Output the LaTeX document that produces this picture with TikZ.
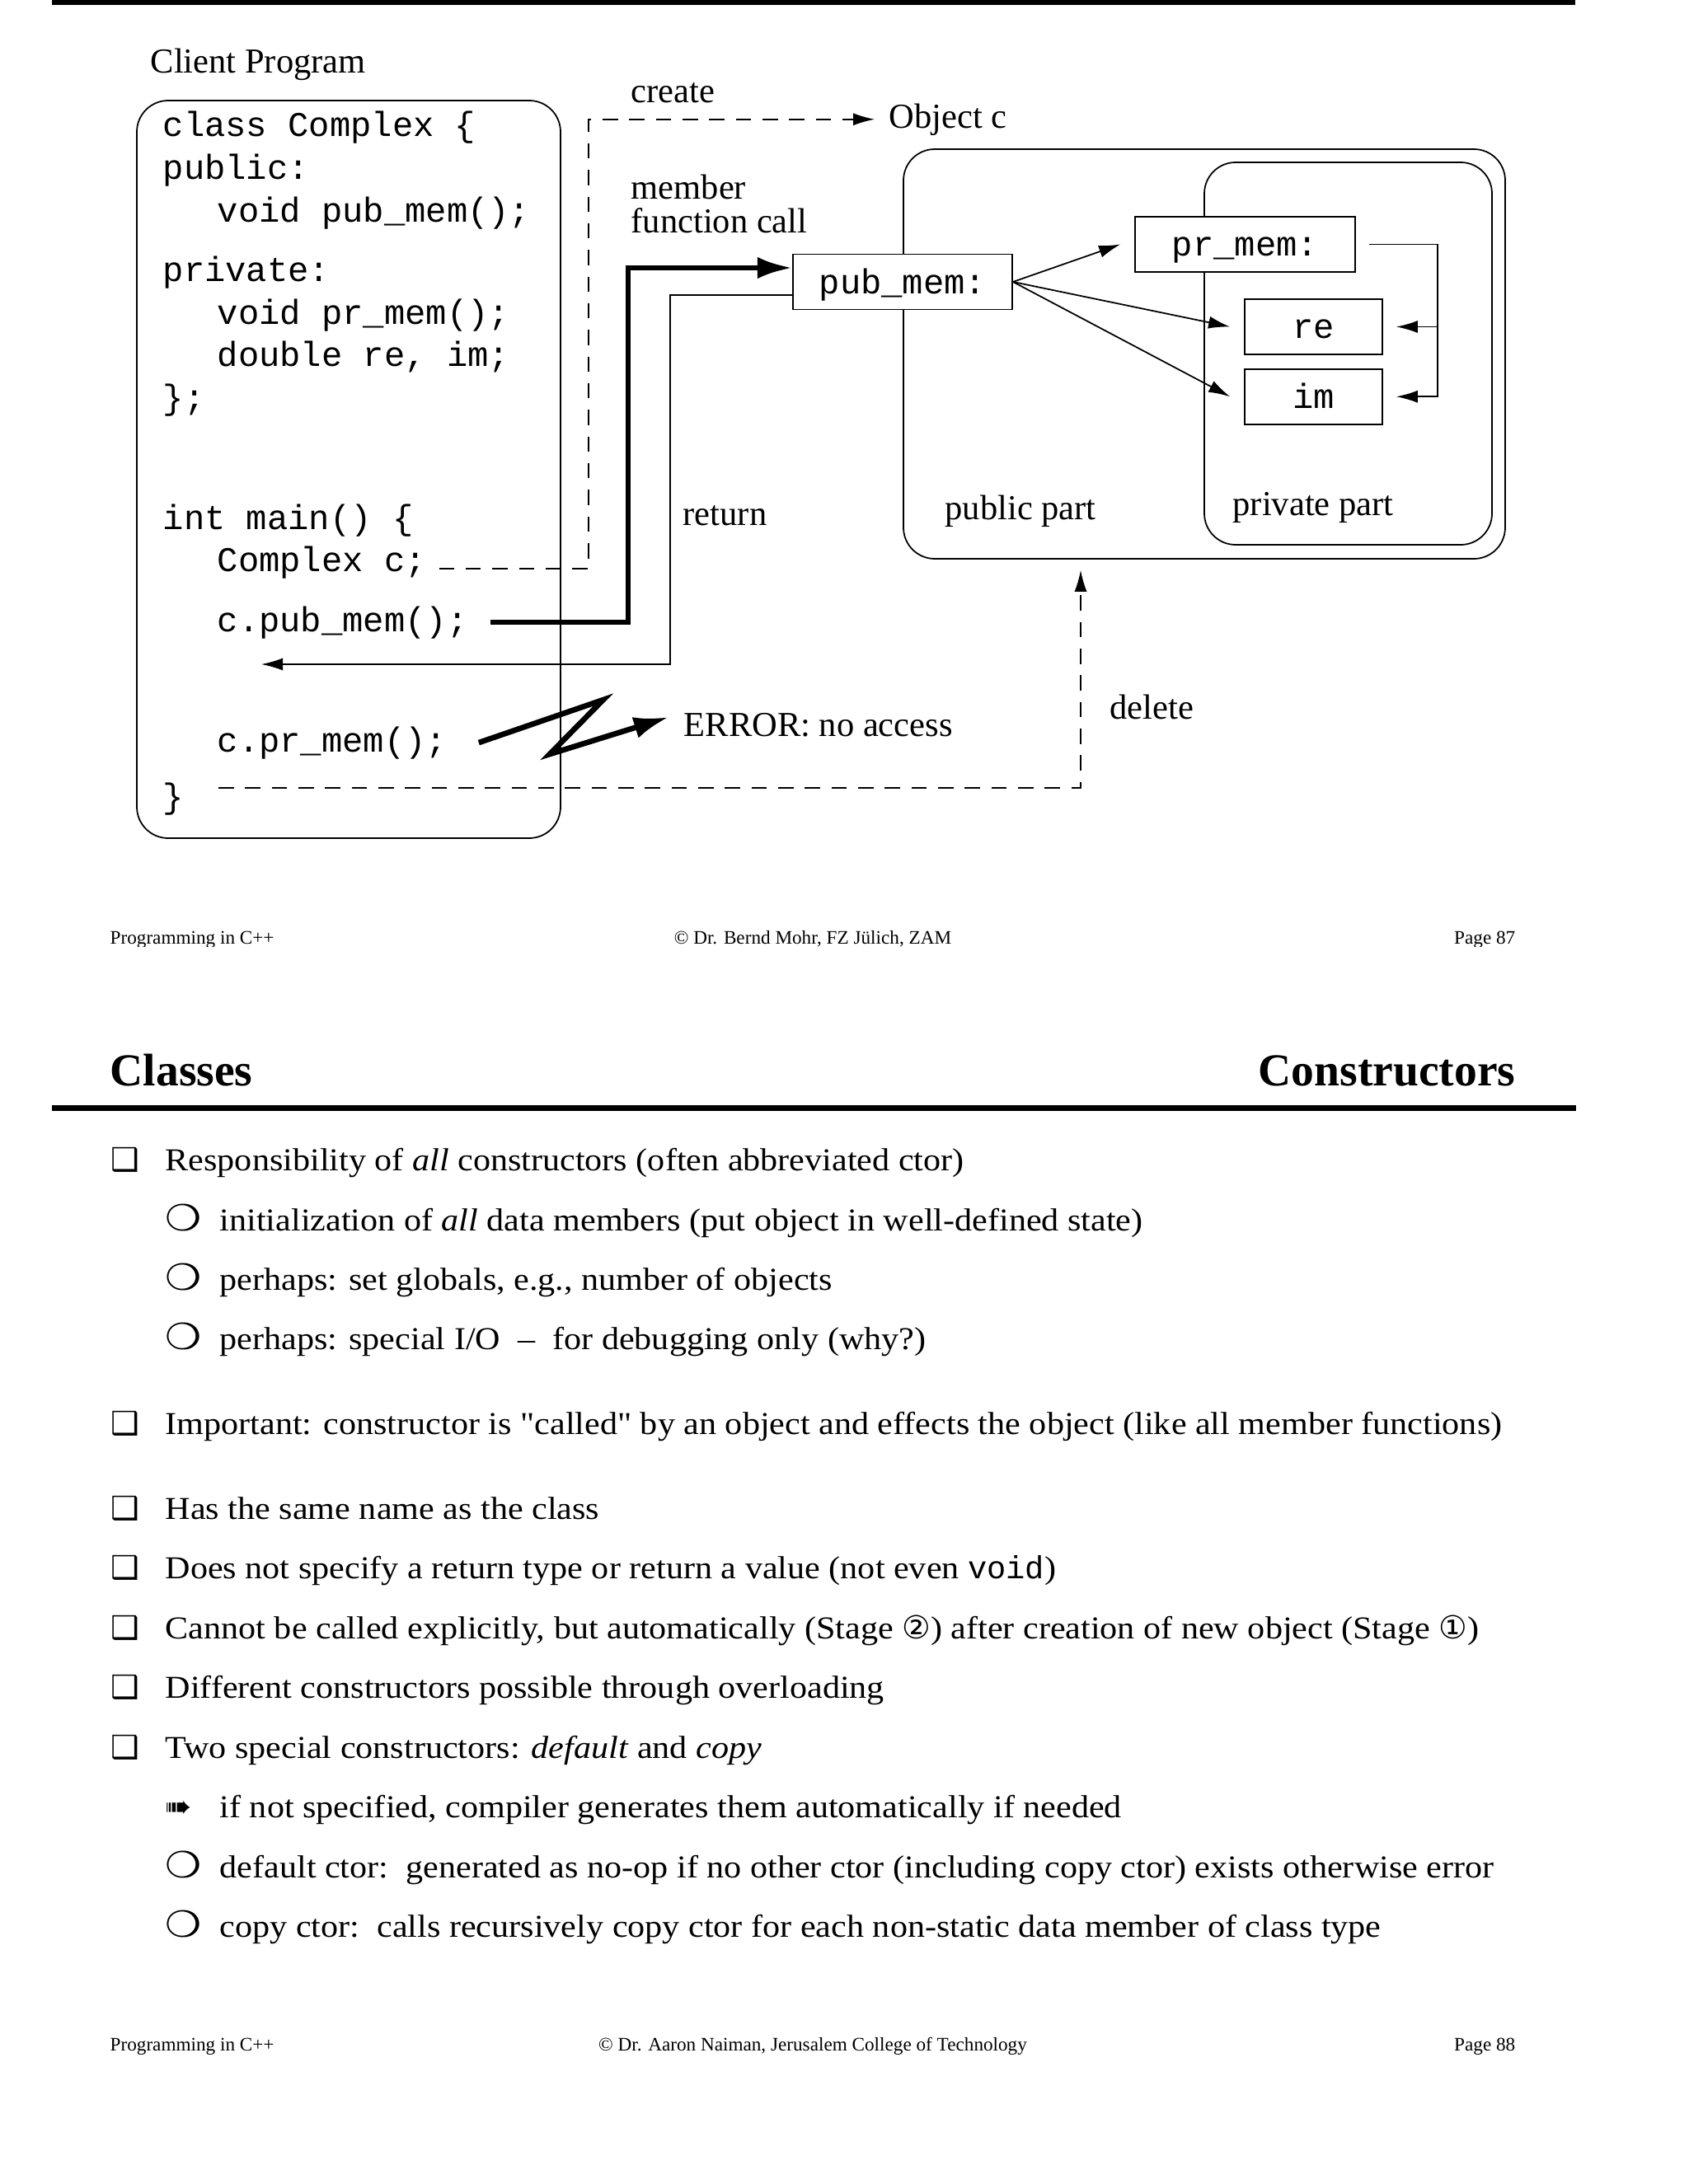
\documentclass[tikz,border=0pt]{standalone}
\usepackage{fontspec}
\setmainfont{Liberation Serif}
\setmonofont{Liberation Mono}
\newfontfamily\bodyfont[FakeStretch=1.09,Ligatures=TeXOff]{Liberation Serif}
\newfontfamily\symfont{DejaVu Sans}
\newfontfamily\widesymfont[FakeStretch=1.12]{DejaVu Sans}
\usetikzlibrary{arrows.meta,positioning}

\newcommand{\boxbul}{\makebox[0.66cm][l]{\symfont ❑}}
\newcommand{\ringbul}{\makebox[0.66cm][l]{\widesymfont\fontsize{12.5}{13}\selectfont ❍}}
\newcommand{\arrbul}{\makebox[0.66cm][l]{\symfont ➠}}

\begin{document}
\begin{tikzpicture}[
codeline/.style={font=\ttfamily\fontsize{12}{14}\selectfont, anchor=base west, inner sep=0pt},
txt/.style={font=\fontsize{12.1}{14}\selectfont, anchor=base west, inner sep=0pt},
membox/.style={
draw,
fill=white,
line width=0.5pt,
inner sep=0pt,
font=\ttfamily\fontsize{12}{14}\selectfont,
text height=0.38cm,
text depth=0.10cm,
minimum height=0.67cm
},
part/.style={draw, line width=0.5pt, rounded corners=0.38cm},
conn/.style={-{Latex[length=7.4pt,width=4.3pt]}, line width=0.5pt},
callconn/.style={-{Latex[length=12pt,width=7.5pt]}, line width=1.9pt},
dashconn/.style={conn, dash pattern=on 5.3pt off 3.9pt},
bodytxt/.style={font=\bodyfont\fontsize{11}{13}\selectfont, anchor=base west, inner sep=0pt},
foot/.style={font=\fontsize{6.6}{8}\selectfont, inner sep=0pt},
heading/.style={font=\bfseries\fontsize{15.8}{18}\selectfont, inner sep=0pt}
]
\useasboundingbox[fill=white] (0,0) rectangle (20.48,-26.50);

% page 87
\fill (0.63,0) rectangle (19.11,-0.06);

\node[txt] (clienttitle) at (1.82,-0.89) {Client Program};
\node[part, minimum width=5.14cm, minimum height=8.95cm] (client) at (4.23,-5.695) {};
\node[codeline] (cl1) at (1.97,-1.66) {class Complex \{};
\node[codeline] (cl2) at (1.97,-2.18) {public:};
\node[codeline] (cl3) at (2.63,-2.69) {void pub\_mem();};
\node[codeline] (cl4) at (1.97,-3.41) {private:};
\node[codeline] (cl5) at (2.63,-3.93) {void pr\_mem();};
\node[codeline] (cl6) at (2.63,-4.44) {double re, im;};
\node[codeline] (cl7) at (1.97,-4.96) {\};};
\node[codeline] (mn1) at (1.97,-6.42) {int main() \{};
\node[codeline] (cc) at (2.63,-6.93) {Complex c;};
\node[codeline] (cpub) at (2.63,-7.66) {c.pub\_mem();};
\node[codeline] (cpr) at (2.63,-9.12) {c.pr\_mem();};
\node[codeline] (mnend) at (1.97,-9.80) {\}};
\coordinate (retend) at (3.17,-8.06);
\coordinate (scopeend) at (2.65,-9.56);

\node[txt] (create) at (7.65,-1.25) {create};
\node[txt] (objc) at (10.78,-1.55) {Object c};
\node[txt] (member) at (7.65,-2.41) {member};
\node[txt] (fcall) at (7.65,-2.82) {function call};
\node[txt] (ret) at (8.28,-6.37) {return};
\node[txt] (err) at (8.29,-8.93) {ERROR: no access};
\node[txt] (del) at (13.46,-8.72) {delete};

\node[part, minimum width=7.30cm, minimum height=4.97cm] (obj) at (14.61,-4.295) {};
\node[part, minimum width=3.49cm, minimum height=4.64cm] (priv) at (16.355,-4.29) {};
\node[txt] (publbl) at (11.46,-6.30) {public part};
\node[txt] (privlbl) at (14.95,-6.25) {private part};
\node[membox, minimum width=2.66cm] (pubmem) at (10.95,-3.42) {pub\_mem:};
\node[membox, minimum width=2.67cm] (prmem) at (15.105,-2.965) {pr\_mem:};
\node[membox, minimum width=1.67cm] (re) at (15.935,-3.965) {re};
\node[membox, minimum width=1.67cm, below=0.16cm of re] (im) {im};

\draw[dashconn] ([xshift=1.5mm,yshift=0.3mm]cc.base east) -| ([xshift=-3.64cm]objc.west) -- ([xshift=-1.7mm]objc.west);
\draw[callconn] ([xshift=2.7mm]cpub.east) -| ([xshift=-1.99cm,yshift=1.7mm]pubmem.west) -- ([yshift=1.7mm]pubmem.west);
\draw[conn] ([yshift=-1.6mm]pubmem.west) -- ++(-1.48,0) |- (retend);
\draw[callconn] ([xshift=3.8mm]cpr.east) -- ++(1.51,0.52) -- ++(-0.65,-0.66) -- ([xshift=-1.8mm,yshift=0.9mm]err.west);
\draw[dashconn] (scopeend) -| ([xshift=-1.50cm,yshift=-1.3mm]obj.south);
\draw[conn] (pubmem.east) -- ([xshift=-1.7mm]prmem.west);
\draw[conn] (pubmem.east) -- ([xshift=-1.7mm]re.west);
\draw[conn] (pubmem.east) -- ([xshift=-1.7mm]im.west);
\draw[conn] ([xshift=1.6mm]prmem.east) -| ([xshift=6.6mm]im.east) -- ([xshift=1.6mm]im.east);
\draw[conn] ([xshift=6.6mm]re.east) -- ([xshift=1.6mm]re.east);

\begin{scope}
\clip (0,-10.5) rectangle (20.48,-11.48);
\node[foot, anchor=base west] (prog87) at (1.33,-11.45) {Programming in C++};
\node[foot, anchor=base] (copy87) at (9.86,-11.45) {© Dr. Bernd Mohr, FZ Jülich, ZAM};
\node[foot, anchor=base east] (page87) at (18.39,-11.45) {Page 87};
\end{scope}

% page 88
\node[heading, anchor=base west] (classes) at (1.33,-13.17) {Classes};
\node[heading, anchor=base east] (ctors) at (18.39,-13.17) {Constructors};
\fill (0.63,-13.41) rectangle (19.12,-13.48);

\node[bodytxt] (b1) at (1.34,-14.20) {\boxbul Responsibility of \textit{all} constructors (often abbreviated ctor)};
\node[bodytxt] (b1a) at (2.00,-14.93) {\ringbul initialization of \textit{all} data members (put object in well-defined state)};
\node[bodytxt] (b1b) at (2.00,-15.65) {\ringbul perhaps: set globals, e.g., number of objects};
\node[bodytxt] (b1c) at (2.00,-16.37) {\ringbul perhaps: special I/O\ \ –\ \ for debugging only (why?)};
\node[bodytxt] (b2) at (1.34,-17.40) {\boxbul Important: constructor is "called" by an object and effects the object (like all member functions)};
\node[bodytxt] (b3) at (1.34,-18.43) {\boxbul Has the same name as the class};
\node[bodytxt] (b4) at (1.34,-19.15) {\boxbul Does not specify a return type or return a value (not even \texttt{void})};
\node[bodytxt] (b5) at (1.34,-19.88) {\boxbul Cannot be called explicitly, but automatically (Stage {\symfont ②}) after creation of new object (Stage {\symfont ①})};
\node[bodytxt] (b6) at (1.34,-20.60) {\boxbul Different constructors possible through overloading};
\node[bodytxt] (b7) at (1.34,-21.33) {\boxbul Two special constructors: \textit{default} and \textit{copy}};
\node[bodytxt] (b7a) at (2.00,-22.05) {\arrbul if not specified, compiler generates them automatically if needed};
\node[bodytxt] (b7b) at (2.00,-22.78) {\ringbul default ctor:\ \ generated as no-op if no other ctor (including copy ctor) exists otherwise error};
\node[bodytxt] (b7c) at (2.00,-23.50) {\ringbul copy ctor:\ \ calls recursively copy ctor for each non-static data member of class type};

\node[foot, anchor=base west] (prog88) at (1.33,-24.88) {Programming in C++};
\node[foot, anchor=base] (copy88) at (9.86,-24.88) {© Dr. Aaron Naiman, Jerusalem College of Technology};
\node[foot, anchor=base east] (page88) at (18.39,-24.88) {Page 88};
\end{tikzpicture}
\end{document}
